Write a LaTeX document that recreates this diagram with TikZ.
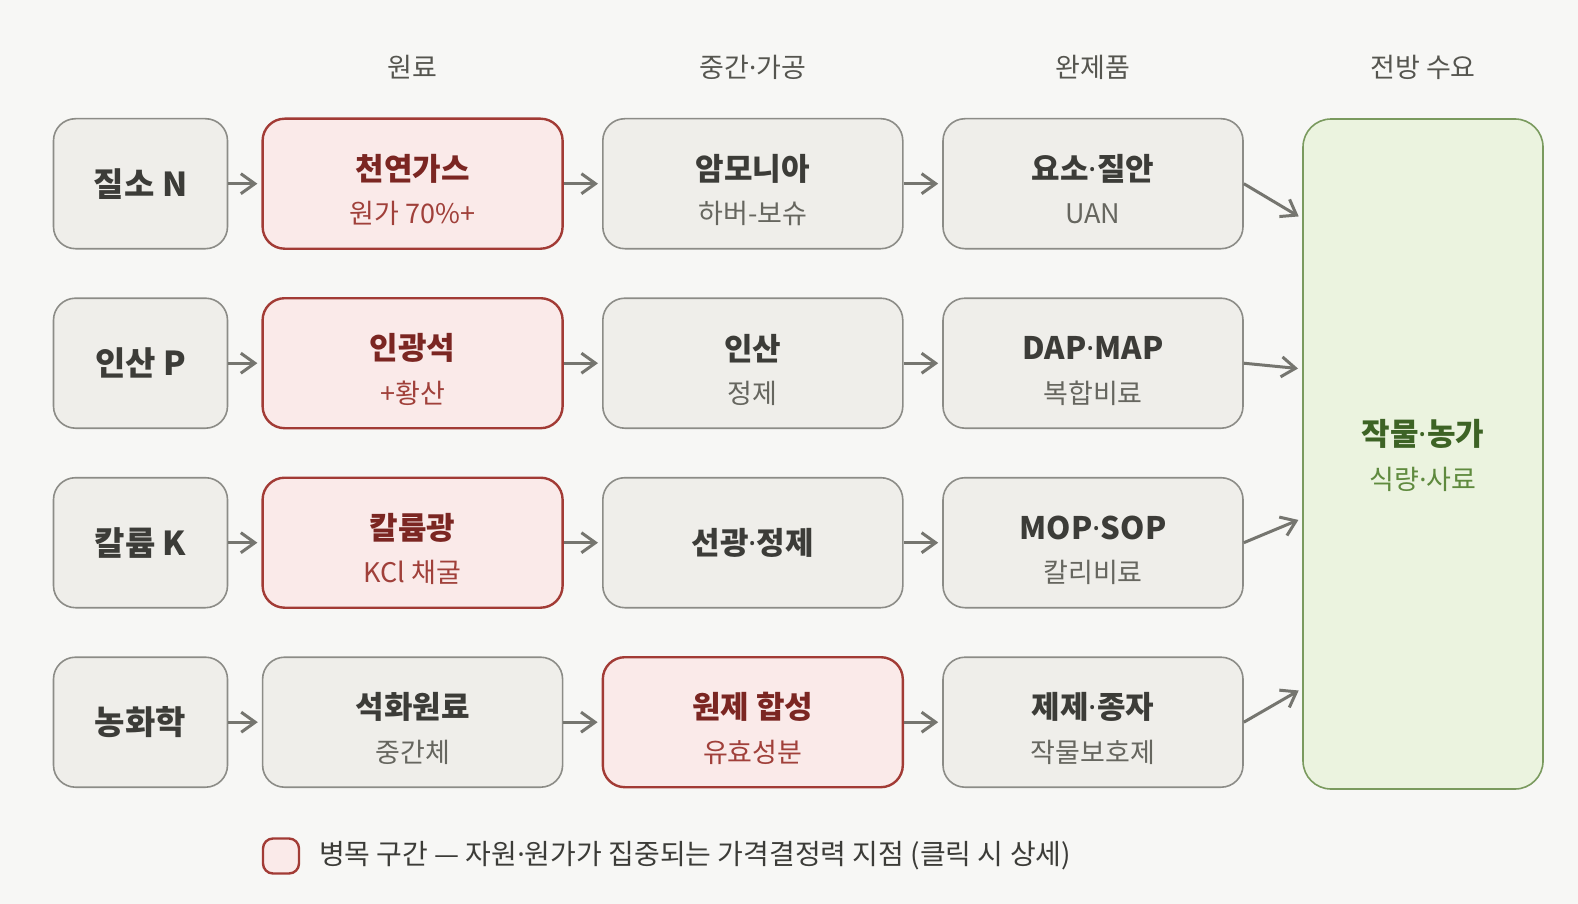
\documentclass[tikz,border=0pt]{standalone}
\usepackage{fontspec}
\setmainfont{Noto Sans CJK KR}
\newfontfamily\dotfont{Noto Sans}
\newcommand{\mdot}{{\dotfont ·}}
\usetikzlibrary{arrows.meta}

\definecolor{bg}{HTML}{F7F7F5}
\definecolor{boxfill}{HTML}{EFEEEA}
\definecolor{boxline}{HTML}{8C8C87}
\definecolor{hotfill}{HTML}{FAEAE9}
\definecolor{hotline}{HTML}{A23B35}
\definecolor{hottitle}{HTML}{7B2622}
\definecolor{hotsub}{HTML}{A0403A}
\definecolor{cropfill}{HTML}{EBF3DF}
\definecolor{cropline}{HTML}{7A9A5E}
\definecolor{croptitle}{HTML}{3D6325}
\definecolor{cropsub}{HTML}{5F8A3E}
\definecolor{titlegray}{HTML}{3C3C38}
\definecolor{subgray}{HTML}{66665F}
\definecolor{arrowgray}{HTML}{75756F}
\definecolor{headgray}{HTML}{55554F}

\begin{document}
\begin{tikzpicture}[x=0.5pt,y=-0.5pt,
    box/.style={draw=boxline,fill=boxfill,line width=0.8pt,rounded corners=11pt,
      minimum height=65pt,inner sep=0pt},
    widebox/.style={box,minimum width=150pt},
    srcbox/.style={box,minimum width=87pt},
    hot/.style={draw=hotline,fill=hotfill,line width=1.2pt},
    flow/.style={draw=arrowgray,line width=1.5pt,
      -{Straight Barb[length=7pt,width=10pt]},shorten >=2pt},
    colhead/.style={text=headgray,font=\fontsize{13.5}{16}\selectfont},
    ttl/.style={text=titlegray,font=\fontsize{15.5}{18}\selectfont\bfseries},
    subttl/.style={text=subgray,font=\fontsize{13.5}{16}\selectfont},
  ]
  \useasboundingbox[fill=bg] (0,0) rectangle (1578,904);

  % column heads
  \node[colhead] (h1) at (412.6,67) {원료};
  \node[colhead] (h2) at (752.8,67) {중간\mdot 가공};
  \node[colhead] (h3) at (1093,67) {완제품};
  \node[colhead] (h4) at (1423,67) {전방 수요};

  % nitrogen
  \node[srcbox] (srcN) at (140.5,183.7) {};
  \node[ttl,font=\fontsize{16.5}{18}\selectfont\bfseries] at (srcN) {질소 N};
  \node[widebox,hot] (rawN) at (412.6,183.7) {};
  \node[ttl,text=hottitle,yshift=7.5pt] at (rawN) {천연가스};
  \node[subttl,text=hotsub,yshift=-15pt] at (rawN) {원가 70\%+};
  \node[widebox] (midN) at (752.8,183.7) {};
  \node[ttl,yshift=7.5pt] at (midN) {암모니아};
  \node[subttl,yshift=-15pt] at (midN) {하버-보슈};
  \node[widebox] (finN) at (1093,183.7) {};
  \node[ttl,yshift=7.5pt] at (finN) {요소\mdot 질안};
  \node[subttl,yshift=-15pt] at (finN) {UAN};

  % phosphate
  \node[srcbox] (srcP) at (140.5,363.2) {};
  \node[ttl,font=\fontsize{16.5}{18}\selectfont\bfseries] at (srcP) {인산 P};
  \node[widebox,hot] (rawP) at (412.6,363.2) {};
  \node[ttl,text=hottitle,yshift=7.5pt] at (rawP) {인광석};
  \node[subttl,text=hotsub,yshift=-15pt] at (rawP) {+황산};
  \node[widebox] (midP) at (752.8,363.2) {};
  \node[ttl,yshift=7.5pt] at (midP) {인산};
  \node[subttl,yshift=-15pt] at (midP) {정제};
  \node[widebox] (finP) at (1093,363.2) {};
  \node[ttl,yshift=7.5pt] at (finP) {DAP\mdot MAP};
  \node[subttl,yshift=-15pt] at (finP) {복합비료};

  % potash
  \node[srcbox] (srcK) at (140.5,542.7) {};
  \node[ttl,font=\fontsize{16.5}{18}\selectfont\bfseries] at (srcK) {칼륨 K};
  \node[widebox,hot] (rawK) at (412.6,542.7) {};
  \node[ttl,text=hottitle,yshift=7.5pt] at (rawK) {칼륨광};
  \node[subttl,text=hotsub,yshift=-15pt] at (rawK) {KCl 채굴};
  \node[widebox] (midK) at (752.8,542.7) {};
  \node[ttl] at (midK) {선광\mdot 정제};
  \node[widebox] (finK) at (1093,542.7) {};
  \node[ttl,yshift=7.5pt] at (finK) {MOP\mdot SOP};
  \node[subttl,yshift=-15pt] at (finK) {칼리비료};

  % agrochemicals
  \node[srcbox] (srcA) at (140.5,722.2) {};
  \node[ttl,font=\fontsize{16.5}{18}\selectfont\bfseries] at (srcA) {농화학};
  \node[widebox] (rawA) at (412.6,722.2) {};
  \node[ttl,yshift=7.5pt] at (rawA) {석화원료};
  \node[subttl,yshift=-15pt] at (rawA) {중간체};
  \node[widebox,hot] (midA) at (752.8,722.2) {};
  \node[ttl,text=hottitle,yshift=7.5pt] at (midA) {원제 합성};
  \node[subttl,text=hotsub,yshift=-15pt] at (midA) {유효성분};
  \node[widebox] (finA) at (1093,722.2) {};
  \node[ttl,yshift=7.5pt] at (finA) {제제\mdot 종자};
  \node[subttl,yshift=-15pt] at (finA) {작물보호제};

  % demand side
  \node[box,draw=cropline,fill=cropfill,rounded corners=14pt,
    minimum width=120pt,minimum height=335pt] (crop) at (1423,454) {};
  \node[ttl,text=croptitle,yshift=10pt] at (crop) {작물\mdot 농가};
  \node[subttl,text=cropsub,yshift=-12.5pt] at (crop) {식량\mdot 사료};
  \coordinate (inN) at (1303,219);
  \coordinate (inP) at (1303,369);
  \coordinate (inK) at (1303,518);
  \coordinate (inA) at (1303,688);

  \draw[flow] (srcN) -- (rawN);
  \draw[flow] (rawN) -- (midN);
  \draw[flow] (midN) -- (finN);
  \draw[flow] (srcP) -- (rawP);
  \draw[flow] (rawP) -- (midP);
  \draw[flow] (midP) -- (finP);
  \draw[flow] (srcK) -- (rawK);
  \draw[flow] (rawK) -- (midK);
  \draw[flow] (midK) -- (finK);
  \draw[flow] (srcA) -- (rawA);
  \draw[flow] (rawA) -- (midA);
  \draw[flow] (midA) -- (finA);
  \draw[flow,shorten >=2.5pt] (finN.east) -- (inN);
  \draw[flow,shorten >=2.5pt] (finP.east) -- (inP);
  \draw[flow,shorten >=2.5pt] (finK.east) -- (inK);
  \draw[flow,shorten >=2.5pt] (finA.east) -- (inA);

  % legend
  \node[box,hot,rounded corners=5pt,minimum width=18pt,minimum height=17.5pt]
    (key) at (281,856) {};
  \node[anchor=west,text=titlegray,font=\fontsize{14}{16}\selectfont]
    (keytext) at (312,856) {병목 구간 — 자원\mdot 원가가 집중되는 가격결정력 지점 (클릭 시 상세)};
\end{tikzpicture}
\end{document}
